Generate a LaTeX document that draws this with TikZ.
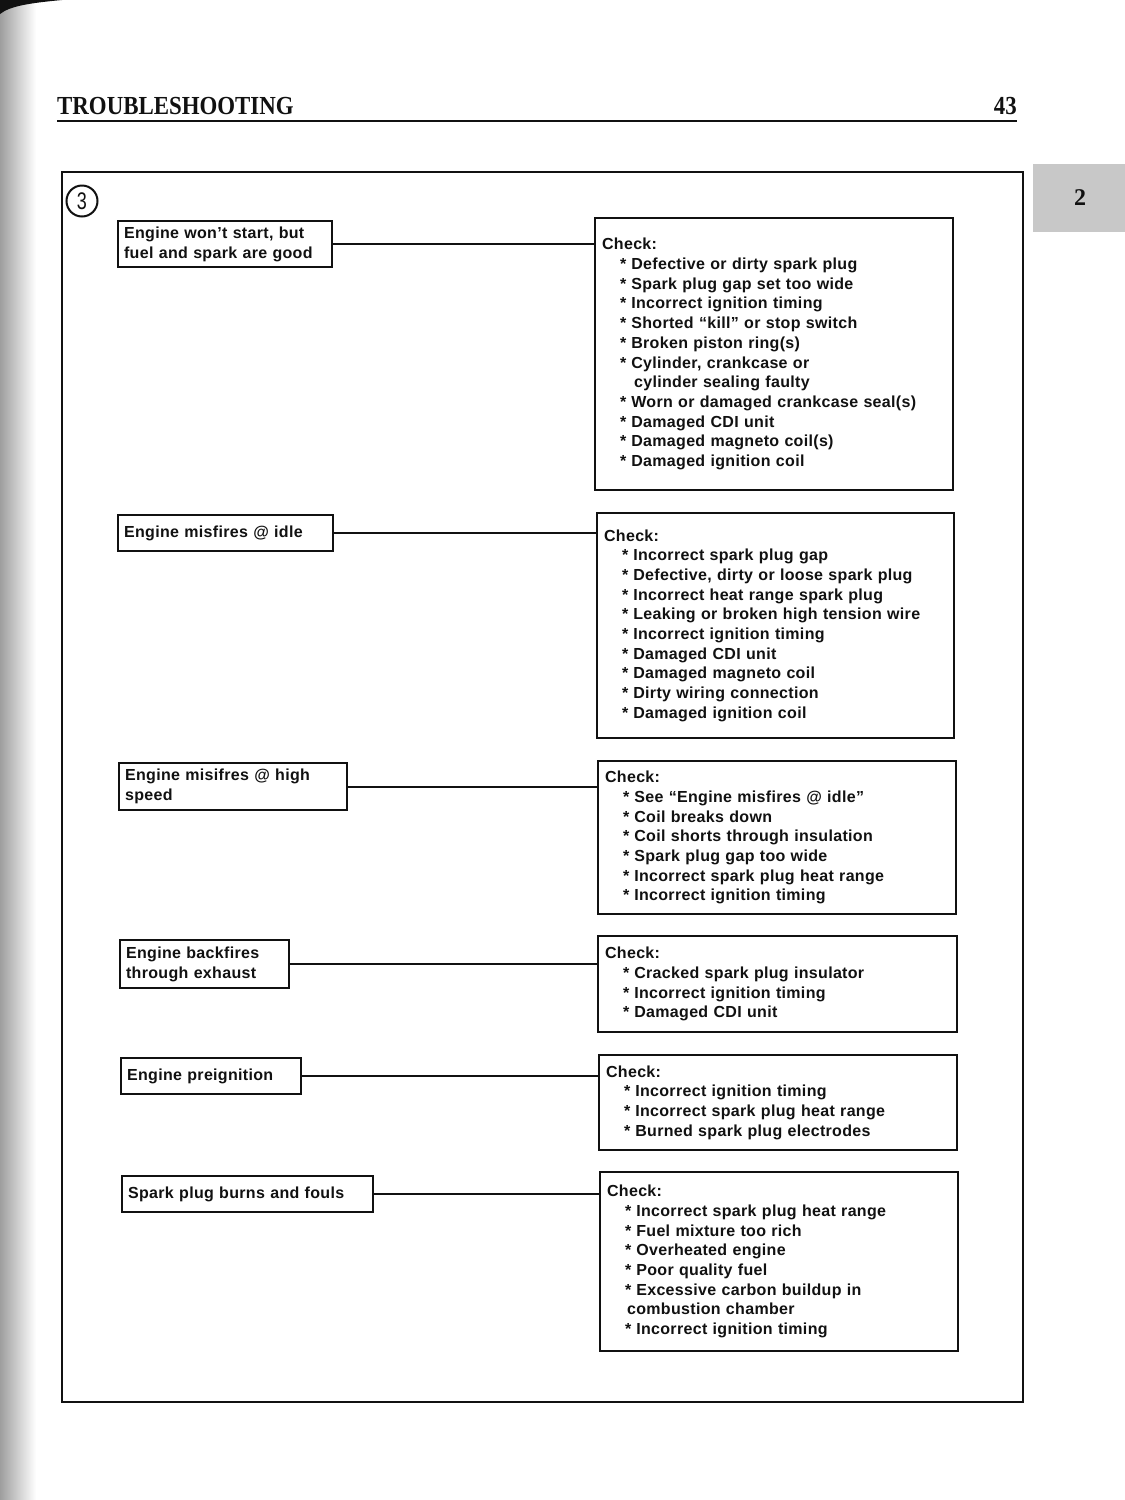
\documentclass[tikz,border=0pt]{standalone}
\usepackage{fontspec}
\usepackage{tikz}
\usetikzlibrary{positioning,calc}
\newfontfamily\cfont[LetterSpace=2,Ligatures=TeX]{Liberation Sans}
\newfontfamily\hfont[Ligatures=TeX]{Liberation Serif}
\definecolor{ink}{HTML}{111111}
\definecolor{tabgray}{HTML}{C8C8C8}
\tikzset{
  symbox/.style ={draw=ink, line width=2.2pt, fill=white, align=left, anchor=north west,
                  inner xsep=6pt, inner ysep=0pt,
                  font=\cfont\bfseries\fontsize{16}{19.7}\selectfont, text=ink},
  chkbox/.style ={symbox, inner xsep=7pt},
  link/.style   ={draw=ink, line width=1.8pt},
  head/.style   ={font=\hfont\bfseries\fontsize{26}{28}\selectfont, text=ink, inner sep=0pt},
}
\newcommand{\itm}{\hspace*{18pt}*\hspace{5pt}}

\begin{document}
\begin{tikzpicture}[x=1pt,y=-1pt]
  \useasboundingbox (0,0) rectangle (1125,1500);
  \fill[white] (0,0) rectangle (1125,1500);
  % scan shadow at the binding
  \shade[left color=black!38, right color=white] (0,0) rectangle (36,1500);
  \fill[ink] (0,0) -- (62,0) .. controls (30,3) and (10,6) .. (0,14) -- cycle;

  % page head
  \node[head,anchor=base west] (title) at (57,114) {\scalebox{0.88}[1]{TROUBLESHOOTING}};
  \node[head,anchor=base east] (page) at (1017,114) {\scalebox{0.88}[1]{43}};
  \draw[ink,line width=2.8pt] (57,121) -- (1017,121);
  \fill[tabgray] (1033,164) rectangle (1125,232);
  \node[font=\hfont\bfseries\fontsize{24}{24}\selectfont, text=ink] (tab) at (1080,198) {2};

  % frame
  \draw[ink,line width=2.8pt] (62,172) rectangle (1023,1402);
  \node[circle,draw=ink,line width=2pt,minimum size=31pt,inner sep=0pt,
        font=\cfont\fontsize{24}{24}\selectfont, text=ink] (num) at (82,201) {\scalebox{0.75}[1]{3}};

  % symptoms
  \node[symbox,text width=202pt,minimum height=46pt] (sym1) at (117,220)
    {Engine won't start, but\\fuel and spark are good};
  \node[symbox,text width=203pt,minimum height=36pt] (sym2) at (117,514)
    {Engine misfires @ idle};
  \node[symbox,text width=216pt,minimum height=47pt] (sym3) at (118,762)
    {Engine misifres @ high\\speed};
  \node[symbox,text width=157pt,minimum height=48pt] (sym4) at (119,939)
    {Engine backfires\\through exhaust};
  \node[symbox,text width=168pt,minimum height=36pt] (sym5) at (120,1057)
    {Engine preignition};
  \node[symbox,text width=239pt,minimum height=36pt] (sym6) at (121,1175)
    {Spark plug burns and fouls};

  % checks
  \node[chkbox,text width=344pt,minimum height=272pt] (chk1) at (594,217)
    {Check:\\
     \itm Defective or dirty spark plug\\
     \itm Spark plug gap set too wide\\
     \itm Incorrect ignition timing\\
     \itm Shorted ``kill'' or stop switch\\
     \itm Broken piston ring(s)\\
     \itm Cylinder, crankcase or\\
     \hspace*{32pt}cylinder sealing faulty\\
     \itm Worn or damaged crankcase seal(s)\\
     \itm Damaged CDI unit\\
     \itm Damaged magneto coil(s)\\
     \itm Damaged ignition coil};
  \node[chkbox,text width=343pt,minimum height=225pt] (chk2) at (596,512)
    {Check:\\
     \itm Incorrect spark plug gap\\
     \itm Defective, dirty or loose spark plug\\
     \itm Incorrect heat range spark plug\\
     \itm Leaking or broken high tension wire\\
     \itm Incorrect ignition timing\\
     \itm Damaged CDI unit\\
     \itm Damaged magneto coil\\
     \itm Dirty wiring connection\\
     \itm Damaged ignition coil};
  \node[chkbox,text width=344pt,minimum height=153pt] (chk3) at (597,760)
    {Check:\\
     \itm See ``Engine misfires @ idle''\\
     \itm Coil breaks down\\
     \itm Coil shorts through insulation\\
     \itm Spark plug gap too wide\\
     \itm Incorrect spark plug heat range\\
     \itm Incorrect ignition timing};
  \node[chkbox,text width=345pt,minimum height=96pt] (chk4) at (597,935)
    {Check:\\
     \itm Cracked spark plug insulator\\
     \itm Incorrect ignition timing\\
     \itm Damaged CDI unit};
  \node[chkbox,text width=344pt,minimum height=95pt] (chk5) at (598,1054)
    {Check:\\
     \itm Incorrect ignition timing\\
     \itm Incorrect spark plug heat range\\
     \itm Burned spark plug electrodes};
  \node[chkbox,text width=344pt,minimum height=179pt] (chk6) at (599,1171)
    {Check:\\
     \itm Incorrect spark plug heat range\\
     \itm Fuel mixture too rich\\
     \itm Overheated engine\\
     \itm Poor quality fuel\\
     \itm Excessive carbon buildup in\\
     \hspace*{20pt}combustion chamber\\
     \itm Incorrect ignition timing};

  % links
  \foreach \i in {1,...,6}
    \draw[link] (sym\i.east) -- (sym\i.east -| chk\i.west);
\end{tikzpicture}
\end{document}
